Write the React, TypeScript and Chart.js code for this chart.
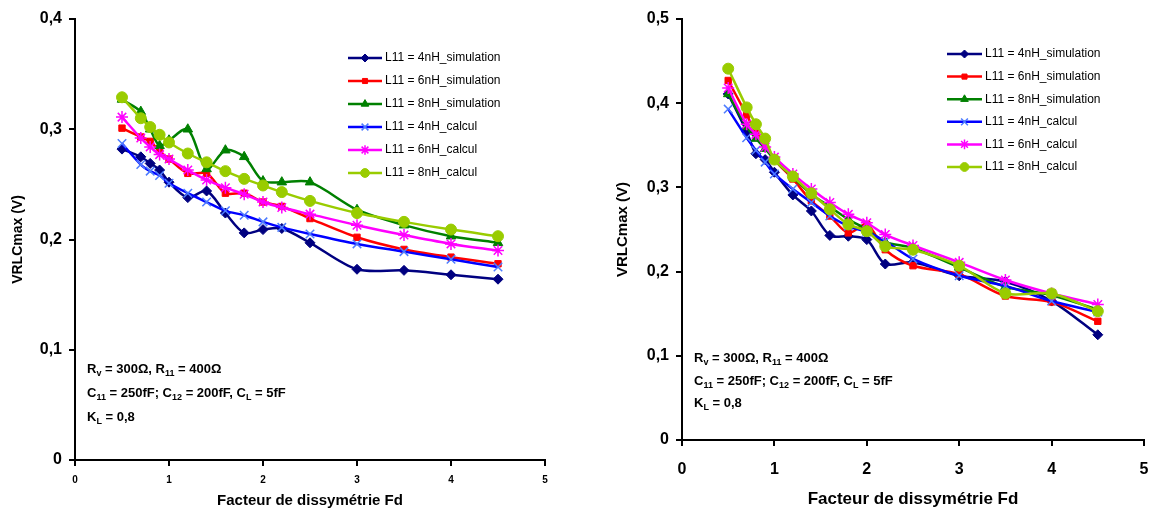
import React, { useEffect, useRef } from 'react';
import { Chart, registerables } from 'chart.js';
import { drawPoint } from 'chart.js/helpers';

Chart.register(...registerables);

const FONT = '"Liberation Sans", Arial, sans-serif';

// Facteur de dissymétrie Fd
const fd = [0.5, 0.7, 0.8, 0.9, 1, 1.2, 1.4, 1.6, 1.8, 2, 2.2, 2.5, 3, 3.5, 4, 4.5];

const seriesLabels = [
  'L11 = 4nH_simulation',
  'L11 = 6nH_simulation',
  'L11 = 8nH_simulation',
  'L11 = 4nH_calcul',
  'L11 = 6nH_calcul',
  'L11 = 8nH_calcul',
];

// Left chart
const leftSim4 = [0.282, 0.275, 0.269, 0.263, 0.252, 0.238, 0.244, 0.224, 0.206, 0.209, 0.21, 0.197, 0.173, 0.172, 0.168, 0.164];
const leftSim6 = [0.301, 0.293, 0.289, 0.28, 0.273, 0.26, 0.26, 0.242, 0.242, 0.234, 0.23, 0.219, 0.202, 0.191, 0.184, 0.178];
const leftSim8 = [0.327, 0.316, 0.3, 0.285, 0.29, 0.3, 0.264, 0.281, 0.275, 0.253, 0.252, 0.252, 0.227, 0.213, 0.203, 0.197];
const leftCal4 = [0.287, 0.268, 0.262, 0.258, 0.251, 0.242, 0.234, 0.226, 0.222, 0.216, 0.211, 0.205, 0.196, 0.189, 0.182, 0.175];
const leftCal6 = [0.311, 0.292, 0.284, 0.277, 0.273, 0.263, 0.254, 0.247, 0.241, 0.234, 0.229, 0.223, 0.213, 0.204, 0.196, 0.19];
const leftCal8 = [0.329, 0.31, 0.302, 0.295, 0.288, 0.278, 0.27, 0.262, 0.255, 0.249, 0.243, 0.235, 0.224, 0.216, 0.209, 0.203];

// Right chart
const rightSim4 = [0.411, 0.366, 0.34, 0.333, 0.318, 0.291, 0.272, 0.243, 0.242, 0.238, 0.209, 0.211, 0.195, 0.188, 0.165, 0.125];
const rightSim6 = [0.427, 0.386, 0.365, 0.352, 0.333, 0.31, 0.284, 0.266, 0.246, 0.256, 0.226, 0.207, 0.197, 0.171, 0.164, 0.141];
const rightSim8 = [0.411, 0.372, 0.358, 0.346, 0.333, 0.312, 0.292, 0.277, 0.262, 0.25, 0.235, 0.228, 0.205, 0.182, 0.172, 0.155];
const rightCal4 = [0.393, 0.359, 0.344, 0.33, 0.316, 0.298, 0.282, 0.266, 0.254, 0.247, 0.236, 0.215, 0.195, 0.183, 0.165, 0.152];
const rightCal6 = [0.418, 0.375, 0.363, 0.348, 0.336, 0.316, 0.298, 0.282, 0.268, 0.258, 0.244, 0.231, 0.211, 0.19, 0.174, 0.161];
const rightCal8 = [0.441, 0.395, 0.375, 0.358, 0.333, 0.313, 0.293, 0.274, 0.256, 0.248, 0.23, 0.226, 0.207, 0.174, 0.174, 0.153];

const xTitle = 'Facteur de dissymétrie Fd';
const yTitle = 'VRLCmax (V)';

const annotationLines: [string, boolean][][] = [
  [['R', false], ['v', true], [' = 300Ω, R', false], ['11', true], [' = 400Ω', false]],
  [['C', false], ['11', true], [' = 250fF; C', false], ['12', true], [' = 200fF, C', false], ['L', true], [' = 5fF', false]],
  [['K', false], ['L', true], [' = 0,8', false]],
];

const lineColors = ['#000080', '#FF0000', '#008000', '#0000FF', '#FF00FF', '#99CC00'];
const markerColors = ['#000080', '#FF0000', '#008000', '#4D7CFF', '#FF00FF', '#99CC00'];
const pointStyles = ['rectRot', 'rect', 'triangle', 'crossRot', 'star', 'circle'];
const pointRadii = [5, 4.5, 5.5, 6, 6, 5.5];

const legendPlugin = {
  id: 'customLegend',
  afterDraw(chart: any, _args: any, opts: any) {
    const ctx = chart.ctx;
    ctx.save();
    chart.data.datasets.forEach((ds: any, i: number) => {
      const y = opts.y0 + i * opts.dy;
      ctx.strokeStyle = ds.borderColor;
      ctx.lineWidth = 2.5;
      ctx.beginPath();
      ctx.moveTo(opts.x, y);
      ctx.lineTo(opts.x + opts.lineLen, y);
      ctx.stroke();
      ctx.fillStyle = ds.pointBackgroundColor;
      ctx.strokeStyle = ds.pointBorderColor;
      ctx.lineWidth = ds.pointBorderWidth;
      drawPoint(ctx, { pointStyle: ds.pointStyle, radius: ds.pointRadius * 0.8, borderWidth: ds.pointBorderWidth, rotation: 0 } as any, opts.x + opts.lineLen / 2, y);
      ctx.fillStyle = '#000';
      ctx.font = opts.font;
      ctx.textBaseline = 'middle';
      ctx.textAlign = 'left';
      ctx.fillText(ds.label, opts.x + opts.lineLen + 3, y);
    });
    ctx.restore();
  },
};

const annotationPlugin = {
  id: 'richText',
  afterDraw(chart: any, _args: any, opts: any) {
    const ctx = chart.ctx;
    ctx.save();
    ctx.fillStyle = '#000';
    ctx.textBaseline = 'alphabetic';
    ctx.textAlign = 'left';
    annotationLines.forEach((line, i) => {
      let x = opts.x;
      const y = opts.y0 + i * opts.dy;
      line.forEach(([txt, sub]) => {
        ctx.font = sub ? `bold ${opts.subSize}px ${FONT}` : `bold ${opts.size}px ${FONT}`;
        ctx.fillText(txt, x, sub ? y + 3 : y);
        x += ctx.measureText(txt).width;
      });
    });
    ctx.restore();
  },
};

const fmtY = (v: any) => {
  const n = Number(v);
  if (Math.abs(n) < 1e-9) return '0';
  return n.toFixed(1).replace('.', ',');
};

type PanelProps = {
  left: number;
  width: number;
  values: number[][];
  yMax: number;
  axisWidth: number;
  padTop: number;
  padRight: number;
  axisHeight: number;
  yTickSize: number;
  xTickSize: number;
  xTickPad: number;
  xTitleSize: number;
  yTitleSize: number;
  yTitlePad: number;
  legend: any;
  annot: any;
};

function Panel(p: PanelProps) {
  const ref = useRef<HTMLCanvasElement>(null);
  useEffect(() => {
    if (!ref.current) return;
    const datasets = p.values.map((vals, i) => ({
      label: seriesLabels[i],
      data: fd.map((x, j) => ({ x, y: vals[j] })),
      borderColor: lineColors[i],
      backgroundColor: markerColors[i],
      pointBackgroundColor: markerColors[i],
      pointBorderColor: markerColors[i],
      pointStyle: pointStyles[i],
      pointRadius: pointRadii[i],
      pointBorderWidth: i === 3 || i === 4 ? 1.5 : 1,
      borderWidth: 2.5,
      tension: 0.3,
      fill: false,
      order: 5 - i,
    }));
    const chart = new Chart(ref.current, {
      type: 'line',
      data: { datasets },
      plugins: [legendPlugin, annotationPlugin],
      options: {
        animation: false,
        responsive: false,
        maintainAspectRatio: false,
        layout: { padding: { left: 0, top: p.padTop, right: p.padRight, bottom: 0 } },
        plugins: {
          legend: { display: false },
          tooltip: { enabled: false },
          customLegend: p.legend,
          richText: p.annot,
        } as any,
        scales: {
          x: {
            type: 'linear',
            min: 0,
            max: 5,
            ticks: { stepSize: 1, color: '#000', padding: p.xTickPad, maxRotation: 0, font: { size: p.xTickSize, weight: 'bold', family: FONT } },
            grid: { display: true, drawOnChartArea: false, drawTicks: true, tickLength: 6, color: '#000', lineWidth: 2 },
            border: { display: true, color: '#000', width: 2 },
            title: { display: true, text: xTitle, color: '#000', font: { size: p.xTitleSize, weight: 'bold', family: FONT }, padding: { top: 0, bottom: 1 } },
            afterFit: (s: any) => {
              s.height = p.axisHeight;
              s.paddingRight = 3;
              s.paddingLeft = 0;
            },
          },
          y: {
            type: 'linear',
            min: 0,
            max: p.yMax,
            ticks: { stepSize: 0.1, color: '#000', padding: 7, callback: fmtY, font: { size: p.yTickSize, weight: 'bold', family: FONT } },
            grid: { display: true, drawOnChartArea: false, drawTicks: true, tickLength: 6, color: '#000', lineWidth: 2 },
            border: { display: true, color: '#000', width: 2 },
            title: { display: true, text: yTitle, color: '#000', font: { size: p.yTitleSize, weight: 'bold', family: FONT }, padding: { top: p.yTitlePad, bottom: 0 } },
            afterFit: (s: any) => { s.width = p.axisWidth; },
          },
        },
      } as any,
    });
    return () => chart.destroy();
  }, []);
  return (
    <div style={{ position: 'absolute', left: p.left, top: 0, width: p.width, height: 511 }}>
      <canvas ref={ref} width={p.width} height={511} style={{ width: p.width, height: 511, display: 'block' }} />
    </div>
  );
}

export default function App() {
  return (
    <div style={{ position: 'absolute', left: 0, top: 0, width: 1153, height: 511, background: '#fff', overflow: 'hidden' }}>
      <Panel
        left={0}
        width={560}
        values={[leftSim4, leftSim6, leftSim8, leftCal4, leftCal6, leftCal8]}
        yMax={0.4}
        axisWidth={75}
        padTop={19}
        padRight={15}
        axisHeight={51}
        yTickSize={16}
        xTickSize={10}
        xTickPad={8}
        xTitleSize={15}
        yTitleSize={14}
        yTitlePad={10}
        legend={{ x: 348, y0: 58, dy: 23, lineLen: 34, font: `12px ${FONT}` }}
        annot={{ x: 87, y0: 373, dy: 24, size: 13, subSize: 9 }}
      />
      <Panel
        left={600}
        width={553}
        values={[rightSim4, rightSim6, rightSim8, rightCal4, rightCal6, rightCal8]}
        yMax={0.5}
        axisWidth={82}
        padTop={19}
        padRight={9}
        axisHeight={71}
        yTickSize={16}
        xTickSize={16}
        xTickPad={14}
        xTitleSize={17}
        yTitleSize={15}
        yTitlePad={14}
        legend={{ x: 347, y0: 54, dy: 22.6, lineLen: 35, font: `12px ${FONT}` }}
        annot={{ x: 94, y0: 362, dy: 22.5, size: 13, subSize: 9 }}
      />
    </div>
  );
}
